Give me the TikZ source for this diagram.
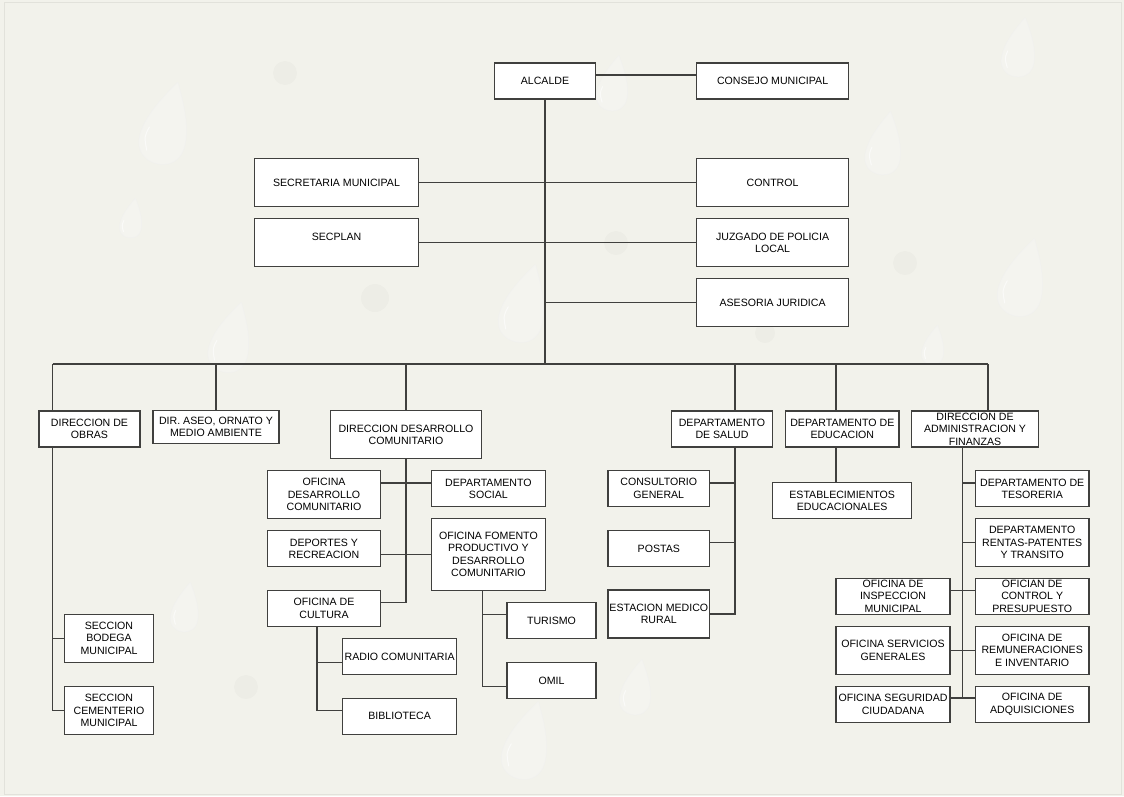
\documentclass[tikz,border=0pt]{standalone}
\usepackage{fontspec}
\setmainfont{Liberation Sans}
\definecolor{bgcol}{RGB}{242,242,235}
\definecolor{framecol}{RGB}{226,226,219}
\definecolor{linecol}{RGB}{64,64,62}
\tikzset{
    box/.style={draw=linecol, fill=white, line width=1.2pt, inner sep=0pt, align=center,
                font={\fontsize{10.6}{12.5}\selectfont}},
    sz/.style 2 args={minimum width=#1pt, minimum height=#2pt},
    link/.style={draw=linecol, line width=1.2pt},
    waterdrop/.pic={
        \path[fill=white, fill opacity=.22, draw=black!6, draw opacity=.6, line width=.5pt]
            (0,-1) .. controls (.3,-.5) and (.55,0) .. (.55,.45)
            .. controls (.55,.8) and (.3,1) .. (0,1)
            .. controls (-.3,1) and (-.55,.8) .. (-.55,.45)
            .. controls (-.55,0) and (-.3,-.5) .. (0,-1);
        \draw[white, opacity=.6, line width=1pt, line cap=round] (-.38,.2) .. controls (-.44,.45) .. (-.3,.75);
    },
    dot/.style={fill=black, fill opacity=.018}
}
\begin{document}
\begin{tikzpicture}[x=1pt, y=-1pt]
    \useasboundingbox (0,0) rectangle (1124,796);
    \fill[bgcol] (0,0) rectangle (1124,796);
    \draw[framecol, line width=.8pt] (4,2) rectangle (1121,794);

    \foreach \px/\py/\s/\r in {167/123/42/-15, 232/337/36/-15, 525/303/40/-15, 132/218/20/-10,
                               614/83/28/-10, 885/143/32/-10, 1020/47/30/-10, 1024/277/40/-15,
                               528/740/40/-15, 637/687/28/-10, 934/345/20/-10, 186/607/25/-10}
        \pic[scale=\s, rotate=\r] at (\px,\py) {waterdrop};
    \foreach \px/\py/\s in {285/73/12, 375/298/14, 905/263/12, 616/243/12, 765/333/10, 246/687/12}
        \fill[dot] (\px,\py) circle (\s);

    \node[box, sz={101}{36}] (alcalde) at (545,81) {ALCALDE};
    \node[box, sz={152}{36}] (consejo) at (772.6,81) {CONSEJO MUNICIPAL};
    \node[box, sz={164.5}{48}] (secretaria) at (336.5,182.7) {SECRETARIA MUNICIPAL};
    \node[box, sz={152}{48}] (control) at (772.6,182.7) {CONTROL};
    \node[box, sz={164.5}{48}] (secplan) at (336.5,242.7) {SECPLAN\\\mbox{}};
    \node[box, sz={152}{48}] (juzgado) at (772.6,242.7) {JUZGADO DE POLICIA\\LOCAL};
    \node[box, sz={152}{48}] (asesoria) at (772.6,302.7) {ASESORIA JURIDICA};

    \node[box, sz={101}{36}] (obras) at (89.5,429) {DIRECCION DE\\OBRAS};
    \node[box, sz={126}{32.6}] (aseo) at (216,427) {DIR. ASEO, ORNATO Y\\MEDIO AMBIENTE};
    \node[box, sz={151}{48}] (ddc) at (406,434.7) {DIRECCION DESARROLLO\\COMUNITARIO};
    \node[box, sz={101}{36}] (salud) at (722,429) {DEPARTAMENTO\\DE SALUD};
    \node[box, sz={113.5}{36}] (educacion) at (842.3,429) {DEPARTAMENTO DE\\EDUCACION};
    \node[box, sz={126.6}{36}] (admin) at (975,429) {DIRECCION DE\\ADMINISTRACION Y\\FINANZAS};

    \node[box, sz={89.3}{48}] (bodega) at (109,638.3) {SECCION\\BODEGA\\MUNICIPAL};
    \node[box, sz={89.3}{48}] (cementerio) at (109,710.5) {SECCION\\CEMENTERIO\\MUNICIPAL};

    \node[box, sz={113.7}{48}] (ofdc) at (324,494.7) {OFICINA\\DESARROLLO\\COMUNITARIO};
    \node[box, sz={114}{36}] (social) at (488.4,488.7) {DEPARTAMENTO\\SOCIAL};
    \node[box, sz={113.7}{36}] (deportes) at (324,548.7) {DEPORTES Y\\RECREACION};
    \node[box, sz={114}{71.6}] (fomento) at (488.4,554.5) {OFICINA FOMENTO\\PRODUCTIVO Y\\DESARROLLO\\COMUNITARIO};
    \node[box, sz={113.7}{36}] (cultura) at (324,608.3) {OFICINA DE\\CULTURA};
    \node[box, sz={113.5}{36}] (radio) at (399.6,656.7) {RADIO COMUNITARIA};
    \node[box, sz={113.5}{36}] (biblioteca) at (399.6,716.3) {BIBLIOTECA};
    \node[box, sz={89}{36}] (turismo) at (551.5,620.5) {TURISMO};
    \node[box, sz={89}{36}] (omil) at (551.5,680.5) {OMIL};

    \node[box, sz={101.6}{36}] (consultorio) at (658.8,488.5) {CONSULTORIO\\GENERAL};
    \node[box, sz={101.6}{36}] (postas) at (658.8,548.7) {POSTAS};
    \node[box, sz={101.6}{48}] (estacion) at (658.8,614) {ESTACION MEDICO\\RURAL};
    \node[box, sz={139.2}{36}] (establecimientos) at (842.2,500.7) {ESTABLECIMIENTOS\\EDUCACIONALES};

    \node[box, sz={113.5}{36}] (tesoreria) at (1032.2,488.7) {DEPARTAMENTO DE\\TESORERIA};
    \node[box, sz={113.5}{48}] (rentas) at (1032.2,542.7) {DEPARTAMENTO\\RENTAS-PATENTES\\Y TRANSITO};
    \node[box, sz={113.5}{36}] (presupuesto) at (1032.2,596.3) {OFICIAN DE\\CONTROL Y\\PRESUPUESTO};
    \node[box, sz={113.5}{48}] (remuneraciones) at (1032.2,650.3) {OFICINA DE\\REMUNERACIONES\\E INVENTARIO};
    \node[box, sz={113.5}{36}] (adquisiciones) at (1032.2,704.3) {OFICINA DE\\ADQUISICIONES};
    \node[box, sz={114}{36}] (inspeccion) at (893,596.3) {OFICINA DE\\INSPECCION\\MUNICIPAL};
    \node[box, sz={114}{48}] (servicios) at (893,650.3) {OFICINA SERVICIOS\\GENERALES};
    \node[box, sz={114}{36}] (seguridad) at (893,704.3) {OFICINA SEGURIDAD\\CIUDADANA};

    \coordinate (bus) at (545,364);
    \coordinate (busL) at (52.5,364);
    \coordinate (busR) at (988,364);
    \coordinate (salX) at (735,364);
    \coordinate (eduX) at (836,364);
    \coordinate (salA) at (735,483);
    \coordinate (salB) at (735,542.7);
    \coordinate (admA) at (962.5,483);
    \coordinate (admB) at (962.5,542.7);
    \coordinate (admC) at (962.5,590.7);
    \coordinate (admE) at (962.5,698);
    \coordinate (ddcA) at (406,483);
    \coordinate (ddcE) at (406,602.7);
    \coordinate (cultR) at (317,662.7);
    \coordinate (cultB) at (317,710.3);
    \coordinate (fomT) at (482.5,614.3);
    \coordinate (fomO) at (482.5,686.7);

    \draw[link] ([yshift=6pt]alcalde.east) -- ([yshift=6pt]consejo.west)
                (alcalde) -- (bus)
                (secretaria) -- (control)
                (secplan) -- (juzgado)
                (asesoria) -- (asesoria -| bus)
                (busL) -- (busR)
                (busL) -- (busL |- obras.north)
                (aseo) -- (aseo |- bus)
                (ddc) -- (ddc |- bus)
                (salX) -- (salX |- salud.north)
                (eduX) -- (eduX |- educacion.north)
                (busR) -- (busR |- admin.north);
    \draw[link] (busL |- obras.south) |- (cementerio)
                (bodega) -- (bodega -| busL);
    \draw[link] (ddc) -- (ddcE) -- (ddcE -| cultura.east)
                (ddcA -| ofdc.east) -- (ddcA -| social.west)
                (fomento.west -| deportes.east) -- (fomento)
                (cultura.south -| cultB) -- (cultB) -- (cultB -| biblioteca.west)
                (cultR) -- (cultR -| radio.west)
                (fomento.south -| fomO) -- (fomO) -- (fomO -| omil.west)
                (fomT) -- (fomT -| turismo.west);
    \draw[link] (salX |- salud.south) |- (estacion)
                (salA) -- (salA -| consultorio.east)
                (salB) -- (salB -| postas.east)
                (eduX |- educacion.south) -- (eduX |- establecimientos.north);
    \draw[link] (admin.south -| admE) -- (admE)
                (admA) -- (admA -| tesoreria.west)
                (admB) -- (rentas)
                (admC -| inspeccion.east) -- (admC -| presupuesto.west)
                (servicios) -- (remuneraciones)
                (admE -| seguridad.east) -- (admE -| adquisiciones.west);
\end{tikzpicture}
\end{document}
